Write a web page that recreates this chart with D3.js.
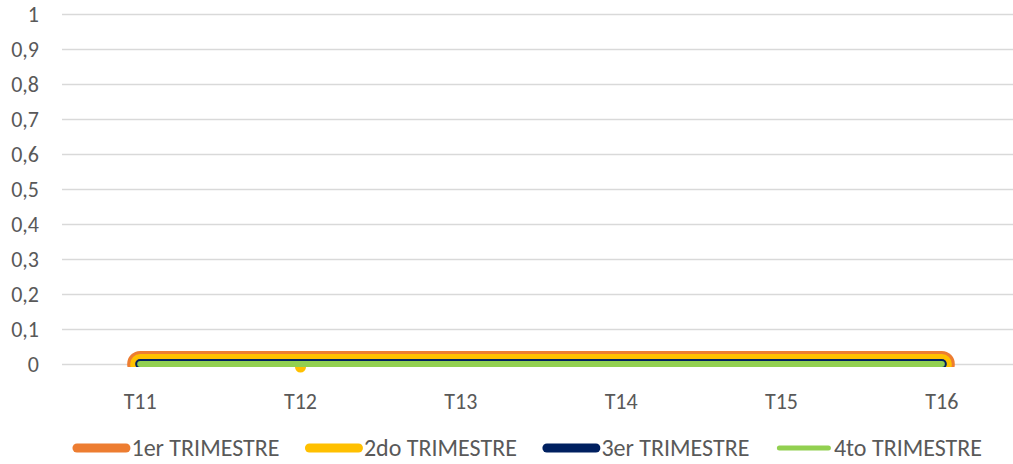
<!DOCTYPE html>
<html>
<head>
<meta charset="utf-8">
<script src="https://cdn.jsdelivr.net/npm/d3@7"></script>
<style>
  body { margin: 0; background: #fff; }
  text { font-family: Carlito, Calibri, Lato, sans-serif; fill: #595959; }
</style>
</head>
<body>
<svg width="1013" height="464"></svg>
<script>
var width = 1013;
var height = 464;

var categories = ['T11', 'T12', 'T13', 'T14', 'T15', 'T16'];
var seriesNames = ['1er TRIMESTRE', '2do TRIMESTRE', '3er TRIMESTRE', '4to TRIMESTRE'];
var serie1 = [0, 0, 0, 0, 0, 0];
var serie2 = [0, 0, 0, 0, 0, 0];
var serie3 = [0, 0, 0, 0, 0, 0];
var serie4 = [0, 0, 0, 0, 0, 0];
var yTicks = [0, 0.1, 0.2, 0.3, 0.4, 0.5, 0.6, 0.7, 0.8, 0.9, 1];
// the lone marker excel left on the 2do series
var markers = [{serie: 1, cat: 'T12', value: 0}];

var colors = ['#ED7D31', '#FFC000', '#002060', '#92D050'];
var lineWidths = [26, 20, 10, 6];
var legendWidths = [9, 9, 9, 5];

var plotLeft = 62, plotRight = 1022, plotTop = 14, plotBottom = 364;

var x = d3.scaleBand().domain(categories).range([60, 1022]);
var y = d3.scaleLinear().domain([0, 1]).range([plotBottom, plotTop]);

var svg = d3.select('svg');

// gridlines
svg.append('g')
    .attr('transform', 'translate(' + plotLeft + ',0)')
    .call(d3.axisLeft(y).tickValues(yTicks).tickSize(-(plotRight - plotLeft)).tickFormat(''))
    .call(g => g.select('.domain').remove())
    .selectAll('line').attr('stroke', '#D9D9D9').attr('stroke-width', 1.3);

// y labels
svg.append('g')
    .attr('transform', 'translate(' + plotLeft + ',0)')
    .call(d3.axisLeft(y).tickValues(yTicks).tickSize(0).tickPadding(23)
        .tickFormat(d => String(+d.toFixed(1)).replace('.', ',')))
    .call(g => g.select('.domain').remove())
    .selectAll('text').style('font-size', '22px').attr('fill', '#595959');

// x labels
svg.append('g')
    .attr('transform', 'translate(0,' + plotBottom + ')')
    .call(d3.axisBottom(x).tickSize(0).tickPadding(29))
    .call(g => g.select('.domain').remove())
    .selectAll('text').style('font-size', '22px').attr('fill', '#595959');

svg.append('clipPath').attr('id', 'plot')
    .append('rect').attr('x', 0).attr('y', 0).attr('width', width).attr('height', plotBottom + 3);

var line = d3.line()
    .x((d, i) => x(categories[i]) + x.bandwidth() / 2)
    .y(d => y(d));

var data = [serie1, serie2, serie3, serie4];
var plot = svg.append('g').attr('clip-path', 'url(#plot)');

data.forEach(function(s, k) {
    if (k === 3) {
        // marker sits under the green line
        svg.selectAll('circle.mk').data(markers).enter()
            .append('circle')
            .attr('class', 'mk')
            .attr('cx', d => x(d.cat) + x.bandwidth() / 2)
            .attr('cy', d => y(d.value) + 3)
            .attr('r', 5.5)
            .attr('fill', d => colors[d.serie]);
    }
    var target = k === 3 ? svg : plot;
    target.append('path')
        .datum(s)
        .attr('d', line)
        .attr('fill', 'none')
        .attr('stroke', colors[k])
        .attr('stroke-width', lineWidths[k])
        .attr('stroke-linejoin', 'round')
        .attr('stroke-linecap', 'round')
        .attr('clip-path', k === 3 ? 'url(#plot)' : null);
});

// legend
var legend = svg.append('g');
var items = legend.selectAll('g').data(seriesNames).enter().append('g');
items.append('line')
    .attr('x1', 4.5).attr('x2', 53.5).attr('y1', 0).attr('y2', 0)
    .attr('stroke', (d, i) => colors[i])
    .attr('stroke-width', (d, i) => legendWidths[i])
    .attr('stroke-linecap', 'round');
items.append('text')
    .attr('x', 59).attr('y', 0).attr('dy', '0.35em')
    .style('font-size', '24px')
    .text(d => d);

var gap = 30;
var pos = 0;
items.each(function() {
    var w = this.getBBox().width;
    this.__x = pos;
    pos += w + gap;
});
pos -= gap;
var start = 525 - pos / 2;
items.attr('transform', function() { return 'translate(' + (start + this.__x) + ',448)'; });
</script>
</body>
</html>
